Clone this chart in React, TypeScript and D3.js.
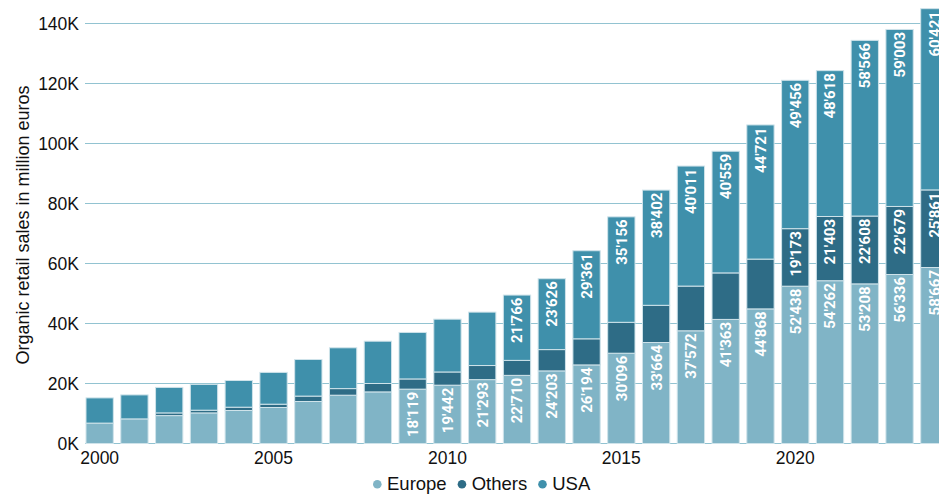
import React, { useEffect, useRef } from 'react';
import { select, scaleLinear, scaleBand, stack, format } from 'd3';

const years = [
  2000, 2001, 2002, 2003, 2004, 2005, 2006, 2007, 2008, 2009, 2010, 2011, 2012,
  2013, 2014, 2015, 2016, 2017, 2018, 2019, 2020, 2021, 2022, 2023, 2024,
];
const europe = [
  6800, 8200, 9300, 10200, 11000, 12000, 14000, 16100, 17200, 18119, 19442, 21293, 22710,
  24203, 26194, 30096, 33664, 37572, 41363, 44868, 52438, 54262, 53208, 56336, 58667,
];
const others = [
  0, 0, 900, 900, 1100, 1100, 1800, 2200, 2800, 3400, 4400, 4700, 5000,
  7100, 8700, 10300, 12400, 14900, 15500, 16600, 19173, 21403, 22608, 22679, 25861,
];
const usa = [
  8400, 8000, 8500, 8600, 8900, 10600, 12200, 13600, 14100, 15500, 17600, 17800, 21766,
  23626, 29361, 35156, 38402, 40011, 40559, 44721, 49456, 48618, 58566, 59003, 60421,
];
const seriesNames = ['Europe', 'Others', 'USA'];
const colors = ['#80b4c6', '#2e6c86', '#3f90ab'];
const yTicks = [0, 20000, 40000, 60000, 80000, 100000, 120000, 140000];
const xTickYears = [2000, 2005, 2010, 2015, 2020];

const dims = { width: 939, height: 495 };
const font = '"Liberation Sans", Arial, sans-serif';

const App: React.FC = () => {
  const svgRef = useRef<SVGSVGElement | null>(null);

  useEffect(() => {
    const svg = select(svgRef.current);
    svg.selectAll('*').remove();

    const rows = years.map((year, i) => ({
      year,
      Europe: europe[i],
      Others: others[i],
      USA: usa[i],
    }));

    const x = scaleBand<number>().domain(years).range([86, 948]).paddingInner(0.215).paddingOuter(0);
    const y = scaleLinear().domain([0, 140000]).range([443.5, 23.5]);
    const fmt = (v: number) => format(',')(v).replace(/,/g, "'");

    // gridlines
    svg.append('g')
      .selectAll('line')
      .data(yTicks)
      .enter()
      .append('line')
      .attr('x1', 85)
      .attr('x2', dims.width)
      .attr('y1', d => y(d))
      .attr('y2', d => y(d))
      .attr('stroke', '#92c3d1')
      .attr('stroke-width', 1);

    // y tick labels
    svg.append('g')
      .selectAll('text')
      .data(yTicks)
      .enter()
      .append('text')
      .attr('x', 79)
      .attr('y', d => y(d))
      .attr('dy', '0.35em')
      .attr('text-anchor', 'end')
      .attr('font-family', font)
      .attr('font-size', 17.5)
      .attr('fill', '#111')
      .text(d => `${d / 1000}K`);

    // x tick labels
    svg.append('g')
      .selectAll('text')
      .data(xTickYears)
      .enter()
      .append('text')
      .attr('x', d => x(d)! + x.bandwidth() / 2)
      .attr('y', 464)
      .attr('text-anchor', 'middle')
      .attr('font-family', font)
      .attr('font-size', 17.5)
      .attr('fill', '#111')
      .text(d => d);

    // y title
    svg.append('text')
      .attr('transform', 'translate(29, 225) rotate(-90)')
      .attr('text-anchor', 'middle')
      .attr('font-family', font)
      .attr('font-size', 18)
      .attr('fill', '#111')
      .text('Organic retail sales in million euros');

    const stacked = stack<any>().keys(seriesNames)(rows);

    const groups = svg.append('g')
      .selectAll('g')
      .data(stacked)
      .enter()
      .append('g')
      .attr('fill', (_, i) => colors[i]);

    groups.selectAll('rect')
      .data(d => d)
      .enter()
      .append('rect')
      .attr('x', d => x(d.data.year)!)
      .attr('width', x.bandwidth())
      .attr('y', d => y(d[1]))
      .attr('height', d => Math.max(0, y(d[0]) - y(d[1])))
      .attr('stroke', '#cfe3ea')
      .attr('stroke-width', 1);

    // data labels (only where they fit)
    groups.selectAll('text')
      .data(d => d.filter(s => y(s[0]) - y(s[1]) >= 54))
      .enter()
      .append('text')
      .attr('transform', d => `translate(${x(d.data.year)! + x.bandwidth() / 2}, ${y(d[1]) + 2.5}) rotate(-90)`)
      .attr('text-anchor', 'end')
      .attr('dy', '0.36em')
      .attr('font-family', 'Roboto, "Liberation Sans", sans-serif')
      .attr('font-weight', 'bold')
      .attr('font-size', 15)
      .attr('fill', '#ffffff')
      .text(d => fmt(d[1] - d[0]));

    // legend
    const legend = svg.append('g').attr('transform', 'translate(373, 490)');
    let cx = 0;
    seriesNames.forEach((name, i) => {
      legend.append('circle')
        .attr('cx', cx + 4.3)
        .attr('cy', -5.7)
        .attr('r', 4.3)
        .attr('fill', colors[i]);
      const t = legend.append('text')
        .attr('x', cx + 14)
        .attr('y', 0)
        .attr('font-family', font)
        .attr('font-size', 18.5)
        .attr('fill', '#111')
        .text(name);
      const w = (t.node() as SVGTextElement).getComputedTextLength();
      cx += 14 + w + 11;
    });
  }, []);

  return (
    <div>
      <svg
        ref={svgRef}
        width={dims.width}
        height={dims.height}
        style={{ position: 'absolute', left: 0, top: 0, display: 'block' }}
      />
    </div>
  );
};

export default App;
